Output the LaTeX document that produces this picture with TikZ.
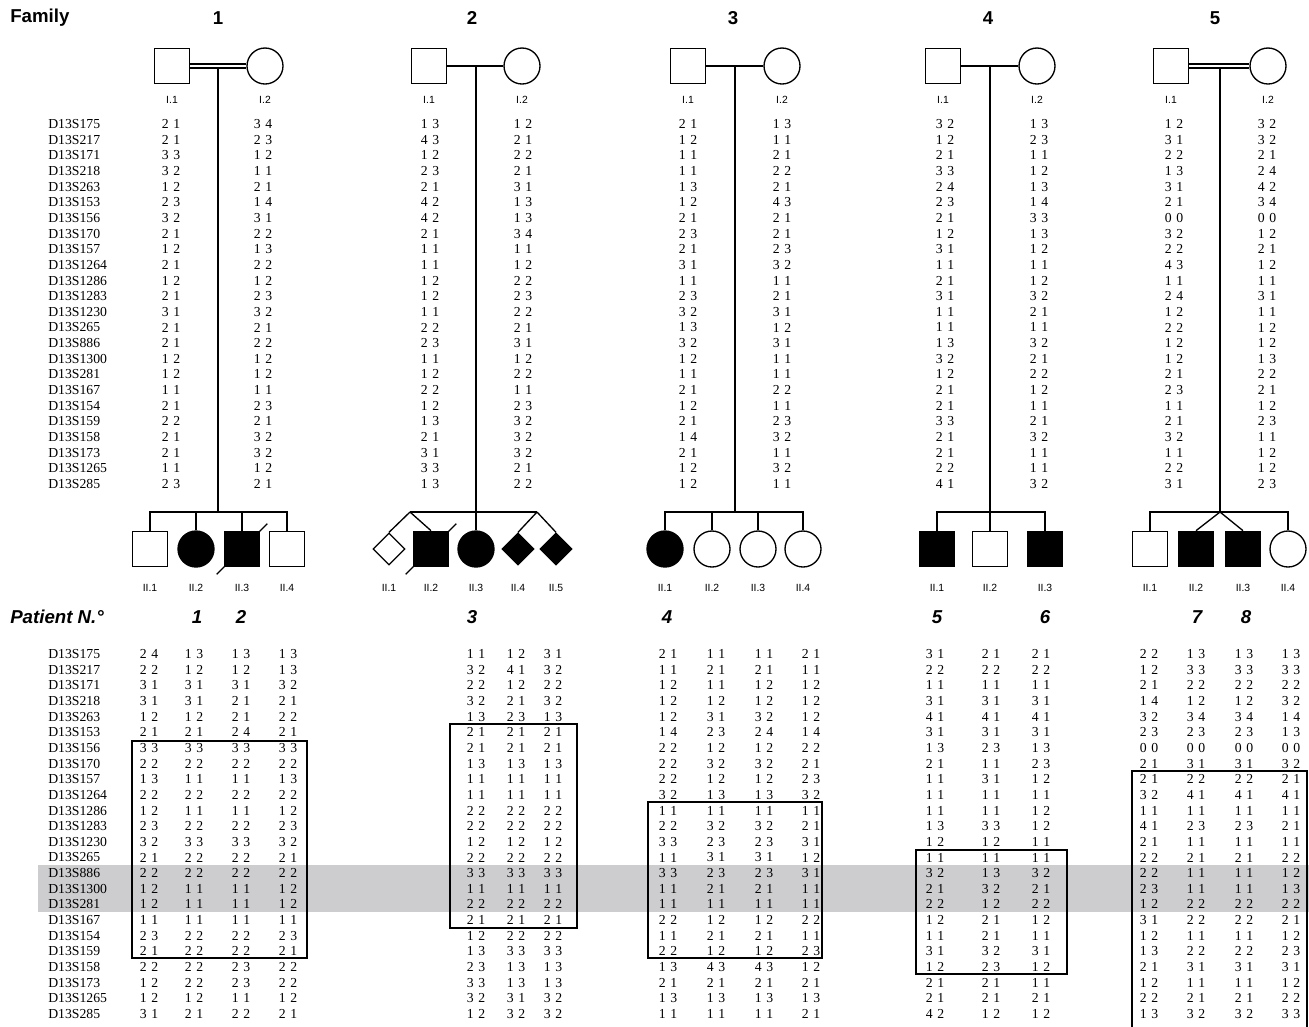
\documentclass[tikz,border=0pt]{standalone}
\usepackage{fontspec}
\setmainfont{Liberation Serif}
\setsansfont{Liberation Sans}
\usetikzlibrary{shapes.geometric}
\newcommand{\pr}[2]{#1\hspace{3.4pt}#2}
\definecolor{bandgray}{RGB}{205,205,207}
\tikzset{
  num/.style={font=\fontsize{10.3}{10}\selectfont, inner sep=0pt, anchor=center},
  mk/.style={font=\fontsize{10.3}{10}\selectfont, inner sep=0pt, anchor=west},
  male/.style={draw, rectangle, minimum size=26.5pt, inner sep=0pt, line width=1pt, fill=white},
  female/.style={draw, circle, minimum size=27pt, inner sep=0pt, line width=1pt, fill=white},
  unk/.style={draw, diamond, minimum size=24pt, inner sep=0pt, line width=1pt, fill=white},
  aff/.style={fill=black},
  lbl/.style={font=\sffamily\fontsize{7.8}{8}\selectfont, inner sep=0pt},
  head/.style={font=\sffamily\bfseries\fontsize{14}{14}\selectfont, inner sep=0pt},
  pat/.style={font=\sffamily\bfseries\itshape\fontsize{14}{14}\selectfont, inner sep=0pt},
  ped/.style={line width=1pt},
  hbox/.style={line width=1pt},
}
\begin{document}
\begin{tikzpicture}[x=0.75pt,y=-0.75pt]
\useasboundingbox (0,0) rectangle (1309,1026);
% grey band
\fill[bandgray] (38,865) rectangle (1309,912);
% headers
\node[head, anchor=west] (famlbl) at (10,18) {Family};
\foreach \x/\t in {218/1,472/2,733/3,988/4,1215/5}
  \node[head] (fh\t) at (\x,18) {\t};
\node[pat, anchor=west] (patlbl) at (10,617) {Patient N.°};
\foreach \x/\t in {197/1,241/2,472/3,667/4,937/5,1045/6,1197/7,1246/8}
  \node[pat] (ph\t) at (\x,617) {\t};
% marker names
\foreach \m [count=\i from 0] in {D13S175,D13S217,D13S171,D13S218,D13S263,D13S153,D13S156,D13S170,D13S157,D13S1264,D13S1286,D13S1283,D13S1230,D13S265,D13S886,D13S1300,D13S281,D13S167,D13S154,D13S159,D13S158,D13S173,D13S1265,D13S285}{
  \node[mk] (mt\i) at (48,{124+15.65*\i}) {\m};
  \node[mk] (mb\i) at (48,{654+15.65*\i}) {\m};
}
% parents' haplotypes
\foreach \x/\nm/\vals in {
 171/ta/{21,21,33,32,12,23,32,21,12,21,12,21,31,21,21,12,12,11,21,22,21,21,11,23},
 263/tb/{34,23,12,11,21,14,31,22,13,22,12,23,32,21,22,12,12,11,23,21,32,32,12,21},
 430/tc/{13,43,12,23,21,42,42,21,11,11,12,12,11,22,23,11,12,22,12,13,21,31,33,13},
 523/td/{12,21,22,21,31,13,13,34,11,12,22,23,22,21,31,12,22,11,23,32,32,32,21,22},
 688/te/{21,12,11,11,13,12,21,23,21,31,11,23,32,13,32,12,11,21,12,21,14,21,12,12},
 782/tf/{13,11,21,22,21,43,21,21,23,32,11,21,31,12,31,11,11,22,11,23,32,11,32,11},
 945/tg/{32,12,21,33,24,23,21,12,31,11,21,31,11,11,13,32,12,21,21,33,21,21,22,41},
 1039/th/{13,23,11,12,13,14,33,13,12,11,12,32,21,11,32,21,22,12,11,21,32,11,11,32},
 1174/ti/{12,31,22,13,31,21,00,32,22,43,11,24,12,22,12,12,21,23,11,21,32,11,22,31},
 1267/tj/{32,32,21,24,42,34,00,12,21,12,11,31,11,12,12,13,22,21,12,23,11,12,12,23}}{
  \foreach \v [count=\i from 0] in \vals
    \node[num] (\nm-\i) at (\x,{124+15.65*\i}) {\expandafter\pr\v};
}
% patients' haplotypes
\foreach \x/\nm/\vals in {
 149/ba/{24,22,31,31,12,21,33,22,13,22,12,23,32,21,22,12,12,11,23,21,22,12,12,31},
 194/bb/{13,12,31,31,12,21,33,22,11,22,11,22,33,22,22,11,11,11,22,22,22,22,12,21},
 241/bc/{13,12,31,21,21,24,33,22,11,22,11,22,33,22,22,11,11,11,22,22,23,23,11,22},
 288/bd/{13,13,32,21,22,21,33,22,13,22,12,23,32,21,22,12,12,11,23,21,22,22,12,21},
 476/be/{11,32,22,32,13,21,21,13,11,11,22,22,12,22,33,11,22,21,12,13,23,33,32,12},
 516/bf/{12,41,12,21,23,21,21,13,11,11,22,22,12,22,33,11,22,21,22,33,13,13,31,32},
 553/bg/{31,32,22,32,13,21,21,13,11,11,22,22,12,22,33,11,22,21,22,33,13,13,32,32},
 668/bh/{21,11,12,12,12,14,22,22,22,32,11,22,33,11,33,11,11,22,11,22,13,21,13,11},
 716/bi/{11,21,11,12,31,23,12,32,12,13,11,32,23,31,23,21,11,12,21,12,43,21,13,11},
 764/bj/{11,21,12,12,32,24,12,32,12,13,11,32,23,31,23,21,11,12,21,12,43,21,13,11},
 811/bk/{21,11,12,12,12,14,22,21,23,32,11,21,31,12,31,11,11,22,11,23,12,21,13,21},
 935/bl/{31,22,11,31,41,31,13,21,11,11,11,13,12,11,32,21,22,12,11,31,12,21,21,42},
 991/bm/{21,22,11,31,41,31,23,11,31,11,11,33,12,11,13,32,12,21,21,32,23,21,21,12},
 1041/bn/{21,22,11,31,41,31,13,23,12,11,12,12,11,11,32,21,22,12,11,31,12,11,21,12},
 1149/bo/{22,12,21,14,32,23,00,21,21,32,11,41,21,22,22,23,12,31,12,13,21,12,22,13},
 1196/bp/{13,33,22,12,34,23,00,31,22,41,11,23,11,21,11,11,22,22,11,22,31,11,21,32},
 1244/bq/{13,33,22,12,34,23,00,31,22,41,11,23,11,21,11,11,22,22,11,22,31,11,21,32},
 1291/br/{13,33,22,32,14,13,00,32,21,41,11,21,11,22,12,13,22,21,12,23,31,12,22,33}}{
  \foreach \v [count=\i from 0] in \vals
    \node[num] (\nm-\i) at (\x,{654+15.65*\i}) {\expandafter\pr\v};
}
% shared-haplotype boxes
\draw[hbox] (132,741) rectangle (307,958);
\draw[hbox] (450,724) rectangle (577,928);
\draw[hbox] (648,802) rectangle (822,958);
\draw[hbox] (916,850) rectangle (1067,974);
\draw[hbox] (1132,1030) -- (1132,771) -- (1307,771) -- (1307,1030);

% ===== pedigrees =====
% family 1
\node[male] (a11) at (172,66) {};
\node[female] (a12) at (265,66) {};
\draw[ped, double, double distance=2.2pt] (a11.east) -- (a12.west);
\coordinate (a1m) at (218,67);
\coordinate (a1s) at (218,512);
\draw[ped] (a1m) -- (a1s);
\node[male] (a21) at (150,549) {};
\node[female, aff] (a22) at (196,549) {};
\node[male, aff] (a23) at (242,549) {};
\node[male] (a24) at (287,549) {};
\draw[ped] (a21.north) -- (a21.north |- a1s) -- (a24.north |- a1s) -- (a24.north);
\draw[ped] (a22.north) -- (a22.north |- a1s);
\draw[ped] (a23.north) -- (a23.north |- a1s);
\draw[ped] ([shift={(-7,7)}]a23.south west) -- ([shift={(7,-7)}]a23.north east);
\node[lbl] (la11) at (172,100) {I.1};
\node[lbl] (la12) at (265,100) {I.2};
\foreach \n/\x in {1/150,2/196,3/242,4/287}
  \node[lbl] (la2\n) at (\x,588) {II.\n};

% family 2
\node[male] (b11) at (429,66) {};
\node[female] (b12) at (522,66) {};
\draw[ped] (b11.east) -- (b12.west);
\coordinate (b1m) at (476,66);
\coordinate (b1s) at (476,512);
\draw[ped] (b1m) -- (b1s);
\node[unk] (b21) at (389,549) {};
\node[male, aff] (b22) at (431,549) {};
\node[female, aff] (b23) at (476,549) {};
\node[unk, aff] (b24) at (518,549) {};
\node[unk, aff] (b25) at (556,549) {};
\coordinate (b2t1) at (410,512);
\coordinate (b2t2) at (537,512);
\draw[ped] (b2t1) -- (b2t2);
\draw[ped] (b2t1) -- (b21.north);
\draw[ped] (b2t1) -- (b22.north);
\draw[ped] (b23.north) -- (b23.north |- b1s);
\draw[ped] (b2t2) -- (b24.north);
\draw[ped] (b2t2) -- (b25.north);
\draw[ped] ([shift={(-7,7)}]b22.south west) -- ([shift={(7,-7)}]b22.north east);
\node[lbl] (lb11) at (429,100) {I.1};
\node[lbl] (lb12) at (522,100) {I.2};
\foreach \n/\x in {1/389,2/431,3/476,4/518,5/556}
  \node[lbl] (lb2\n) at (\x,588) {II.\n};

% family 3
\node[male] (c11) at (688,66) {};
\node[female] (c12) at (782,66) {};
\draw[ped] (c11.east) -- (c12.west);
\coordinate (c1m) at (735,66);
\coordinate (c1s) at (735,512);
\draw[ped] (c1m) -- (c1s);
\node[female, aff] (c21) at (665,549) {};
\node[female] (c22) at (712,549) {};
\node[female] (c23) at (758,549) {};
\node[female] (c24) at (803,549) {};
\draw[ped] (c21.north) -- (c21.north |- c1s) -- (c24.north |- c1s) -- (c24.north);
\draw[ped] (c22.north) -- (c22.north |- c1s);
\draw[ped] (c23.north) -- (c23.north |- c1s);
\node[lbl] (lc11) at (688,100) {I.1};
\node[lbl] (lc12) at (782,100) {I.2};
\foreach \n/\x in {1/665,2/712,3/758,4/803}
  \node[lbl] (lc2\n) at (\x,588) {II.\n};

% family 4
\node[male] (d11) at (943,66) {};
\node[female] (d12) at (1037,66) {};
\draw[ped] (d11.east) -- (d12.west);
\coordinate (d1m) at (990,66);
\coordinate (d1s) at (990,512);
\draw[ped] (d1m) -- (d1s);
\node[male, aff] (d21) at (937,549) {};
\node[male] (d22) at (990,549) {};
\node[male, aff] (d23) at (1045,549) {};
\draw[ped] (d21.north) -- (d21.north |- d1s) -- (d23.north |- d1s) -- (d23.north);
\draw[ped] (d22.north) -- (d22.north |- d1s);
\node[lbl] (ld11) at (943,100) {I.1};
\node[lbl] (ld12) at (1037,100) {I.2};
\foreach \n/\x in {1/937,2/990,3/1045}
  \node[lbl] (ld2\n) at (\x,588) {II.\n};

% family 5
\node[male] (e11) at (1171,66) {};
\node[female] (e12) at (1268,66) {};
\draw[ped, double, double distance=2.2pt] (e11.east) -- (e12.west);
\coordinate (e1m) at (1220,67);
\coordinate (e1s) at (1220,512);
\draw[ped] (e1m) -- (e1s);
\node[male] (e21) at (1150,549) {};
\node[male, aff] (e22) at (1196,549) {};
\node[male, aff] (e23) at (1243,549) {};
\node[female] (e24) at (1288,549) {};
\draw[ped] (e21.north) -- (e21.north |- e1s) -- (e24.north |- e1s) -- (e24.north);
\draw[ped] (e1s) -- (e22.north);
\draw[ped] (e1s) -- (e23.north);
\node[lbl] (le11) at (1171,100) {I.1};
\node[lbl] (le12) at (1268,100) {I.2};
\foreach \n/\x in {1/1150,2/1196,3/1243,4/1288}
  \node[lbl] (le2\n) at (\x,588) {II.\n};
\end{tikzpicture}
\end{document}
